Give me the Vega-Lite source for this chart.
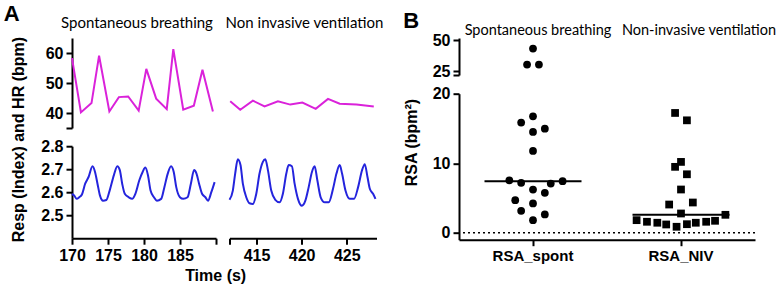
{
  "$schema": "https://vega.github.io/schema/vega-lite/v6.json",
  "padding": {"left": 3, "top": 3, "right": 0, "bottom": 0},
  "background": "white",
  "config": {
    "view": {"stroke": null},
    "axis": {
      "domainColor": "black", "domainWidth": 2, "tickColor": "black", "tickWidth": 2, "tickSize": 6,
      "labelFont": "Liberation Sans", "labelFontWeight": "bold", "labelFontSize": 16, "labelColor": "black", "labelPadding": 3, "labelOverlap": false, "labelFlush": false,
      "titleFont": "Liberation Sans", "titleFontWeight": "bold", "titleFontSize": 16, "titleColor": "black", "grid": false
    },
    "title": {"font": "Lato", "fontWeight": "normal", "fontSize": 15, "color": "black", "anchor": "middle"}
  },
  "datasets": {
    "hr": [
      {"seg": "spont", "t": 170.0, "hr": 58.3},
      {"seg": "spont", "t": 171.24, "hr": 40.2},
      {"seg": "spont", "t": 172.71, "hr": 43.3},
      {"seg": "spont", "t": 173.76, "hr": 59.1},
      {"seg": "spont", "t": 175.19, "hr": 40.5},
      {"seg": "spont", "t": 176.51, "hr": 45.3},
      {"seg": "spont", "t": 177.80, "hr": 45.5},
      {"seg": "spont", "t": 179.26, "hr": 40.8},
      {"seg": "spont", "t": 180.32, "hr": 54.7},
      {"seg": "spont", "t": 181.69, "hr": 44.8},
      {"seg": "spont", "t": 183.16, "hr": 41.3},
      {"seg": "spont", "t": 184.07, "hr": 61.3},
      {"seg": "spont", "t": 185.45, "hr": 41.1},
      {"seg": "spont", "t": 186.92, "hr": 42.4},
      {"seg": "spont", "t": 188.12, "hr": 54.4},
      {"seg": "spont", "t": 189.57, "hr": 40.5},
      {"seg": "niv", "t": 412.08, "hr": 43.9},
      {"seg": "niv", "t": 413.19, "hr": 41.1},
      {"seg": "niv", "t": 414.59, "hr": 44.1},
      {"seg": "niv", "t": 415.89, "hr": 42.2},
      {"seg": "niv", "t": 417.37, "hr": 43.9},
      {"seg": "niv", "t": 418.74, "hr": 42.8},
      {"seg": "niv", "t": 420.08, "hr": 43.5},
      {"seg": "niv", "t": 421.56, "hr": 41.4},
      {"seg": "niv", "t": 422.92, "hr": 44.7},
      {"seg": "niv", "t": 424.22, "hr": 43.1},
      {"seg": "niv", "t": 426.08, "hr": 42.8},
      {"seg": "niv", "t": 428.0, "hr": 42.2}
    ],
    "resp": [
      {"seg": "spont", "t": 170.0, "resp": 2.593},
      {"seg": "spont", "t": 170.32, "resp": 2.585},
      {"seg": "spont", "t": 170.65, "resp": 2.571},
      {"seg": "spont", "t": 171.00, "resp": 2.578},
      {"seg": "spont", "t": 171.38, "resp": 2.590},
      {"seg": "spont", "t": 171.83, "resp": 2.637},
      {"seg": "spont", "t": 172.30, "resp": 2.666},
      {"seg": "spont", "t": 172.85, "resp": 2.713},
      {"seg": "spont", "t": 173.20, "resp": 2.688},
      {"seg": "spont", "t": 173.54, "resp": 2.637},
      {"seg": "spont", "t": 173.89, "resp": 2.585},
      {"seg": "spont", "t": 174.31, "resp": 2.563},
      {"seg": "spont", "t": 174.77, "resp": 2.566},
      {"seg": "spont", "t": 175.23, "resp": 2.607},
      {"seg": "spont", "t": 175.82, "resp": 2.674},
      {"seg": "spont", "t": 176.29, "resp": 2.713},
      {"seg": "spont", "t": 176.64, "resp": 2.696},
      {"seg": "spont", "t": 176.97, "resp": 2.637},
      {"seg": "spont", "t": 177.33, "resp": 2.593},
      {"seg": "spont", "t": 177.88, "resp": 2.578},
      {"seg": "spont", "t": 178.35, "resp": 2.571},
      {"seg": "spont", "t": 178.80, "resp": 2.593},
      {"seg": "spont", "t": 179.35, "resp": 2.652},
      {"seg": "spont", "t": 179.81, "resp": 2.688},
      {"seg": "spont", "t": 180.18, "resp": 2.707},
      {"seg": "spont", "t": 180.55, "resp": 2.674},
      {"seg": "spont", "t": 180.91, "resp": 2.607},
      {"seg": "spont", "t": 181.38, "resp": 2.578},
      {"seg": "spont", "t": 181.79, "resp": 2.563},
      {"seg": "spont", "t": 182.38, "resp": 2.571},
      {"seg": "spont", "t": 182.83, "resp": 2.622},
      {"seg": "spont", "t": 183.30, "resp": 2.681},
      {"seg": "spont", "t": 183.76, "resp": 2.713},
      {"seg": "spont", "t": 184.13, "resp": 2.688},
      {"seg": "spont", "t": 184.48, "resp": 2.622},
      {"seg": "spont", "t": 184.99, "resp": 2.578},
      {"seg": "spont", "t": 185.45, "resp": 2.571},
      {"seg": "spont", "t": 186.05, "resp": 2.578},
      {"seg": "spont", "t": 186.51, "resp": 2.637},
      {"seg": "spont", "t": 186.96, "resp": 2.696},
      {"seg": "spont", "t": 187.29, "resp": 2.681},
      {"seg": "spont", "t": 187.65, "resp": 2.637},
      {"seg": "spont", "t": 188.06, "resp": 2.593},
      {"seg": "spont", "t": 188.53, "resp": 2.578},
      {"seg": "spont", "t": 188.89, "resp": 2.563},
      {"seg": "spont", "t": 189.35, "resp": 2.600},
      {"seg": "spont", "t": 189.81, "resp": 2.644},
      {"seg": "niv", "t": 412.00, "resp": 2.567},
      {"seg": "niv", "t": 412.37, "resp": 2.607},
      {"seg": "niv", "t": 412.63, "resp": 2.681},
      {"seg": "niv", "t": 412.92, "resp": 2.743},
      {"seg": "niv", "t": 413.22, "resp": 2.718},
      {"seg": "niv", "t": 413.48, "resp": 2.637},
      {"seg": "niv", "t": 413.86, "resp": 2.578},
      {"seg": "niv", "t": 414.22, "resp": 2.552},
      {"seg": "niv", "t": 414.59, "resp": 2.549},
      {"seg": "niv", "t": 414.97, "resp": 2.593},
      {"seg": "niv", "t": 415.33, "resp": 2.681},
      {"seg": "niv", "t": 415.70, "resp": 2.732},
      {"seg": "niv", "t": 415.97, "resp": 2.743},
      {"seg": "niv", "t": 416.26, "resp": 2.696},
      {"seg": "niv", "t": 416.63, "resp": 2.607},
      {"seg": "niv", "t": 417.08, "resp": 2.567},
      {"seg": "niv", "t": 417.56, "resp": 2.556},
      {"seg": "niv", "t": 417.92, "resp": 2.593},
      {"seg": "niv", "t": 418.30, "resp": 2.681},
      {"seg": "niv", "t": 418.56, "resp": 2.718},
      {"seg": "niv", "t": 418.92, "resp": 2.713},
      {"seg": "niv", "t": 419.22, "resp": 2.637},
      {"seg": "niv", "t": 419.59, "resp": 2.571},
      {"seg": "niv", "t": 420.03, "resp": 2.541},
      {"seg": "niv", "t": 420.41, "resp": 2.563},
      {"seg": "niv", "t": 420.78, "resp": 2.622},
      {"seg": "niv", "t": 421.14, "resp": 2.688},
      {"seg": "niv", "t": 421.44, "resp": 2.713},
      {"seg": "niv", "t": 421.74, "resp": 2.652},
      {"seg": "niv", "t": 422.11, "resp": 2.578},
      {"seg": "niv", "t": 422.56, "resp": 2.556},
      {"seg": "niv", "t": 423.00, "resp": 2.556},
      {"seg": "niv", "t": 423.48, "resp": 2.615},
      {"seg": "niv", "t": 423.86, "resp": 2.681},
      {"seg": "niv", "t": 424.22, "resp": 2.718},
      {"seg": "niv", "t": 424.48, "resp": 2.681},
      {"seg": "niv", "t": 424.86, "resp": 2.607},
      {"seg": "niv", "t": 425.33, "resp": 2.571},
      {"seg": "niv", "t": 425.81, "resp": 2.571},
      {"seg": "niv", "t": 426.26, "resp": 2.622},
      {"seg": "niv", "t": 426.70, "resp": 2.696},
      {"seg": "niv", "t": 427.00, "resp": 2.722},
      {"seg": "niv", "t": 427.30, "resp": 2.666},
      {"seg": "niv", "t": 427.56, "resp": 2.615},
      {"seg": "niv", "t": 427.92, "resp": 2.593},
      {"seg": "niv", "t": 428.19, "resp": 2.571}
    ],
    "rsa": [
      {"group": "RSA_spont", "rsa": 43.4, "jitter": 0},
      {"group": "RSA_spont", "rsa": 30.5, "jitter": -4},
      {"group": "RSA_spont", "rsa": 30.5, "jitter": 4},
      {"group": "RSA_spont", "rsa": 16.74, "jitter": 0},
      {"group": "RSA_spont", "rsa": 15.84, "jitter": -8},
      {"group": "RSA_spont", "rsa": 14.97, "jitter": 8},
      {"group": "RSA_spont", "rsa": 14.5, "jitter": 0},
      {"group": "RSA_spont", "rsa": 11.77, "jitter": 0},
      {"group": "RSA_spont", "rsa": 7.55, "jitter": -16},
      {"group": "RSA_spont", "rsa": 7.18, "jitter": -8},
      {"group": "RSA_spont", "rsa": 6.22, "jitter": 0},
      {"group": "RSA_spont", "rsa": 5.74, "jitter": 8},
      {"group": "RSA_spont", "rsa": 7.08, "jitter": 12},
      {"group": "RSA_spont", "rsa": 7.41, "jitter": 20},
      {"group": "RSA_spont", "rsa": 4.68, "jitter": -12},
      {"group": "RSA_spont", "rsa": 4.21, "jitter": 0},
      {"group": "RSA_spont", "rsa": 3.16, "jitter": -8},
      {"group": "RSA_spont", "rsa": 2.63, "jitter": 8},
      {"group": "RSA_spont", "rsa": 1.81, "jitter": 0},
      {"group": "RSA_NIV", "rsa": 17.23, "jitter": -4},
      {"group": "RSA_NIV", "rsa": 16.17, "jitter": 4},
      {"group": "RSA_NIV", "rsa": 10.19, "jitter": 0},
      {"group": "RSA_NIV", "rsa": 9.48, "jitter": -4},
      {"group": "RSA_NIV", "rsa": 8.41, "jitter": 4},
      {"group": "RSA_NIV", "rsa": 6.22, "jitter": 0},
      {"group": "RSA_NIV", "rsa": 4.06, "jitter": -8},
      {"group": "RSA_NIV", "rsa": 4.35, "jitter": 8},
      {"group": "RSA_NIV", "rsa": 2.77, "jitter": 0},
      {"group": "RSA_NIV", "rsa": 2.58, "jitter": 30},
      {"group": "RSA_NIV", "rsa": 1.81, "jitter": -30},
      {"group": "RSA_NIV", "rsa": 1.58, "jitter": -23},
      {"group": "RSA_NIV", "rsa": 1.44, "jitter": -16},
      {"group": "RSA_NIV", "rsa": 1.19, "jitter": -10},
      {"group": "RSA_NIV", "rsa": 0.86, "jitter": -3},
      {"group": "RSA_NIV", "rsa": 1.23, "jitter": 4},
      {"group": "RSA_NIV", "rsa": 1.44, "jitter": 10},
      {"group": "RSA_NIV", "rsa": 1.58, "jitter": 17},
      {"group": "RSA_NIV", "rsa": 1.72, "jitter": 23}
    ]
  },
  "spacing": 19,
  "hconcat": [
    {
      "title": {"text": "A", "anchor": "start", "font": "Liberation Sans", "fontWeight": "bold", "fontSize": 22, "offset": -10, "dx": -7},
      "vconcat": [
        {
          "title": {"text": "Time (s)", "orient": "bottom", "anchor": "middle", "font": "Liberation Sans", "fontWeight": "bold", "fontSize": 16, "offset": 5, "dx": 18.5},
          "spacing": 5.5,
          "hconcat": [
            {
              "title": {"text": "Resp (Index) and HR (bpm)", "orient": "left", "anchor": "middle", "font": "Liberation Sans", "fontWeight": "bold", "fontSize": 16, "offset": 14},
              "spacing": 2.2,
              "vconcat": [
                {
                  "width": 144, "height": 90,
                  "title": {"text": "Spontaneous breathing", "offset": 7, "dx": -7},
                  "data": {"name": "hr"},
                  "transform": [{"filter": "datum.seg == 'spont'"}],
                  "mark": {"type": "line", "color": "#DA22DA", "strokeWidth": 2},
                  "encoding": {
                    "x": {"field": "t", "type": "quantitative", "scale": {"domain": [170, 190], "nice": false, "zero": false}, "axis": null},
                    "y": {"field": "hr", "type": "quantitative", "scale": {"domain": [35, 65], "nice": false, "zero": false},
                          "axis": {"values": [35, 40, 50, 60], "labelExpr": "datum.value == 35 ? '' : datum.label", "title": null}}
                  }
                },
                {
                  "width": 144, "height": 92,
                  "data": {"name": "resp"},
                  "transform": [{"filter": "datum.seg == 'spont'"}],
                  "mark": {"type": "line", "color": "#2424DD", "strokeWidth": 2, "interpolate": "monotone"},
                  "encoding": {
                    "x": {"field": "t", "type": "quantitative", "scale": {"domain": [170, 190], "nice": false, "zero": false},
                          "axis": {"values": [170, 175, 180, 185, 190], "labelExpr": "datum.value == 190 ? '' : datum.label", "title": null}},
                    "y": {"field": "resp", "type": "quantitative", "scale": {"domain": [2.4, 2.8], "nice": false, "zero": false},
                          "axis": {"values": [2.5, 2.6, 2.7, 2.8], "format": ".1f", "title": null}}
                  }
                }
              ]
            },
            {
              "spacing": 18.2,
              "vconcat": [
                {
                  "width": 147, "height": 90,
                  "title": {"text": "Non invasive ventilation", "offset": 7, "dx": 1.5},
                  "data": {"name": "hr"},
                  "transform": [{"filter": "datum.seg == 'niv'"}],
                  "mark": {"type": "line", "color": "#DA22DA", "strokeWidth": 2},
                  "encoding": {
                    "x": {"field": "t", "type": "quantitative", "scale": {"domain": [412, 428.3], "nice": false, "zero": false}, "axis": null},
                    "y": {"field": "hr", "type": "quantitative", "scale": {"domain": [35, 65], "nice": false, "zero": false}, "axis": null}
                  }
                },
                {
                  "width": 147, "height": 92,
                  "data": {"name": "resp"},
                  "transform": [{"filter": "datum.seg == 'niv'"}],
                  "mark": {"type": "line", "color": "#2424DD", "strokeWidth": 2, "interpolate": "monotone"},
                  "encoding": {
                    "x": {"field": "t", "type": "quantitative", "scale": {"domain": [412, 428.3], "nice": false, "zero": false},
                          "axis": {"values": [412, 415, 420, 425], "labelExpr": "datum.value == 412 ? '' : datum.label", "title": null}},
                    "y": {"field": "resp", "type": "quantitative", "scale": {"domain": [2.4, 2.8], "nice": false, "zero": false}, "axis": null}
                  }
                }
              ]
            }
          ]
        }
      ]
    },
    {
      "title": {"text": "B", "anchor": "start", "font": "Liberation Sans", "fontWeight": "bold", "fontSize": 22, "offset": -10},
      "spacing": 2.7,
      "vconcat": [
        {
          "width": 296, "height": 37,
          "data": {"name": "rsa"},
          "transform": [{"filter": "datum.rsa >= 21"}],
          "mark": {"type": "point", "filled": true, "opacity": 1, "color": "black", "size": 60},
          "encoding": {
            "x": {"field": "group", "type": "nominal", "sort": null, "scale": {"domain": ["RSA_spont", "RSA_NIV"], "paddingInner": 0, "paddingOuter": 0},
                  "axis": {"orient": "top", "domain": false, "ticks": false, "tickSize": 0, "title": null, "labelAngle": 0, "labelFont": "Lato", "labelFontWeight": "normal", "labelFontSize": 14.5, "labelPadding": 0.5,
                           "labelExpr": "datum.value == 'RSA_spont' ? 'Spontaneous breathing' : 'Non-invasive ventilation'",
                           "labelOffset": {"condition": {"test": "datum.value == 'RSA_NIV'", "value": 18}, "value": 5}}},
            "xOffset": {"field": "jitter", "type": "quantitative", "scale": {"domain": [-50, 50]}},
            "y": {"field": "rsa", "type": "quantitative", "scale": {"domain": [22, 52], "nice": false, "zero": false},
                  "axis": {"values": [22, 25, 50], "labelExpr": "datum.value == 22 ? '' : datum.label", "title": null}},
            "shape": {"field": "group", "type": "nominal", "scale": {"domain": ["RSA_spont", "RSA_NIV"], "range": ["circle", "square"]}, "legend": null}
          }
        },
        {
          "width": 296, "height": 146,
          "layer": [
            {
              "data": {"name": "rsa"},
              "transform": [{"filter": "datum.rsa < 21"}],
              "mark": {"type": "point", "filled": true, "opacity": 1, "color": "black", "size": 60},
              "encoding": {
                "x": {"field": "group", "type": "nominal", "sort": null, "scale": {"domain": ["RSA_spont", "RSA_NIV"], "paddingInner": 0, "paddingOuter": 0},
                      "axis": {"title": null, "labelAngle": 0, "labelFontSize": 15, "labelPadding": 3}},
                "xOffset": {"field": "jitter", "type": "quantitative", "scale": {"domain": [-50, 50]}},
                "y": {"field": "rsa", "type": "quantitative", "scale": {"domain": [-1, 20], "nice": false, "zero": false},
                      "axis": {"values": [0, 5, 10, 15, 20], "title": "RSA (bpm²)", "titleY": 48.3, "titlePadding": 13}},
                "shape": {"field": "group", "type": "nominal", "scale": {"domain": ["RSA_spont", "RSA_NIV"], "range": ["circle", "square"]}, "legend": null}
              }
            },
            {
              "data": {"name": "rsa"},
              "transform": [{"aggregate": [{"op": "median", "field": "rsa", "as": "rsa"}], "groupby": ["group"]}],
              "mark": {"type": "tick", "color": "black", "thickness": 2, "size": 97, "opacity": 1},
              "encoding": {
                "x": {"field": "group", "type": "nominal", "sort": null},
                "y": {"field": "rsa", "type": "quantitative"}
              }
            },
            {
              "data": {"values": [{}]},
              "mark": {"type": "rule", "color": "black", "strokeWidth": 1.5, "strokeDash": [2, 3]},
              "encoding": {"y": {"datum": 0}}
            }
          ]
        }
      ]
    }
  ]
}
